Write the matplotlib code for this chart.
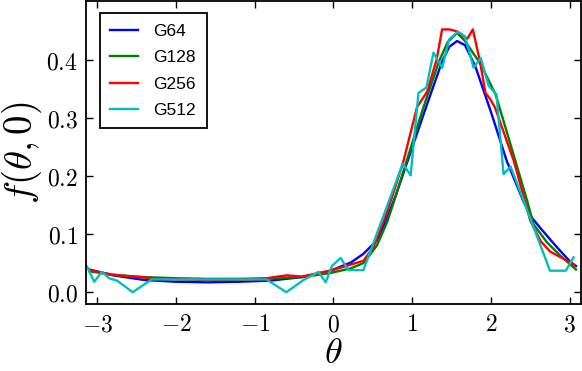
import matplotlib
matplotlib.use("Agg")
import matplotlib.pyplot as plt
from matplotlib.ticker import FuncFormatter, FixedLocator

# G64 (smooth)
theta_g64 = [-3.10, -2.80, -2.40, -2.00, -1.60, -1.20, -0.80, -0.40, -0.04, 0.22, 0.38,
             0.55, 0.64, 0.79, 0.97, 1.18, 1.38, 1.47, 1.57, 1.67, 1.80, 2.00, 2.20,
             2.41, 2.52, 2.63, 2.84, 3.01, 3.08]
f_g64 = [0.039, 0.029, 0.021, 0.018, 0.017, 0.018, 0.020, 0.026, 0.037, 0.051, 0.066,
         0.089, 0.115, 0.166, 0.237, 0.320, 0.397, 0.422, 0.432, 0.425, 0.389, 0.310, 0.226,
         0.157, 0.128, 0.110, 0.077, 0.052, 0.045]

# G128
theta_g128 = [-3.10, -2.80, -2.40, -2.00, -1.60, -1.20, -0.80, -0.40, -0.04, 0.22, 0.38,
              0.55, 0.68, 0.77, 0.93, 1.13, 1.34, 1.45, 1.57, 1.67, 1.87, 2.06, 2.31,
              2.46, 2.54, 2.71, 2.88, 3.08]
f_g128 = [0.036, 0.030, 0.026, 0.024, 0.023, 0.023, 0.024, 0.026, 0.033, 0.041, 0.050,
          0.080, 0.120, 0.157, 0.226, 0.313, 0.397, 0.430, 0.446, 0.432, 0.392, 0.340, 0.226,
          0.157, 0.117, 0.086, 0.063, 0.039]

# G256
theta_g256 = [-3.10, -2.80, -2.40, -2.00, -1.60, -1.20, -0.90, -0.60, -0.40, -0.04, 0.38,
              0.51, 0.64, 0.75, 0.89, 1.06, 1.19, 1.31, 1.38, 1.47, 1.56, 1.70, 1.77,
              1.86, 1.93, 1.99, 2.05, 2.29, 2.50, 2.63, 2.75, 2.97, 3.06]
f_g256 = [0.038, 0.030, 0.025, 0.022, 0.021, 0.021, 0.023, 0.029, 0.027, 0.037, 0.054,
          0.078, 0.123, 0.166, 0.226, 0.318, 0.345, 0.400, 0.452, 0.452, 0.449, 0.436, 0.452,
          0.397, 0.343, 0.332, 0.318, 0.226, 0.123, 0.088, 0.070, 0.054, 0.047]

# G512 (noisy)
theta_g512 = [-3.13, -3.04, -2.94, -2.85, -2.75, -2.55, -2.31, -0.85, -0.60, -0.38,
              -0.19, -0.10, -0.02, 0.09, 0.19, 0.38, 0.88, 0.98, 1.08, 1.18, 1.27, 1.38,
              1.47, 1.58, 1.67, 1.78, 1.87, 1.97, 2.07, 2.16, 2.25, 2.75, 2.95, 3.05]
f_g512 = [0.044, 0.018, 0.035, 0.024, 0.020, 0.000, 0.022, 0.022, 0.000, 0.021,
          0.035, 0.017, 0.045, 0.059, 0.038, 0.038, 0.221, 0.201, 0.343, 0.352, 0.412, 0.386,
          0.435, 0.448, 0.440, 0.386, 0.403, 0.355, 0.340, 0.203, 0.216, 0.037, 0.037, 0.060]

series = [("G64", theta_g64, f_g64, "b"),
          ("G128", theta_g128, f_g128, "g"),
          ("G256", theta_g256, f_g256, "r"),
          ("G512", theta_g512, f_g512, "c")]

xticks = [-3, -2, -1, 0, 1, 2, 3]
yticks = [0.0, 0.1, 0.2, 0.3, 0.4]

plt.rcParams["mathtext.fontset"] = "cm"

fig = plt.figure(figsize=(5.82, 3.71), dpi=100)
ax = fig.add_axes([0.148, 0.181, 0.850, 0.815])

for name, th, f, col in series:
    ax.plot(th, f, color=col, lw=1.7, label=name)

ax.set_xlim(-3.1416, 3.1416)
ax.set_ylim(-0.02, 0.50)
ax.xaxis.set_major_locator(FixedLocator(xticks))
ax.yaxis.set_major_locator(FixedLocator(yticks))
ax.xaxis.set_major_formatter(FuncFormatter(lambda v, p: r"$%d$" % round(v)))
ax.yaxis.set_major_formatter(FuncFormatter(lambda v, p: r"$%.1f$" % v))
ax.tick_params(direction="in", length=5, width=1, top=True, right=True,
               labelsize=17, pad=6)
for sp in ax.spines.values():
    sp.set_linewidth(1.3)

ax.set_xlabel(r"$\theta$", fontsize=26, labelpad=0)
ax.set_ylabel(r"$f(\theta, 0)$", fontsize=28, labelpad=2)

leg = ax.legend(loc="upper left", prop={"family": "Liberation Sans", "size": 12.5},
                fancybox=False, framealpha=1, edgecolor="black",
                handlelength=1.6, handletextpad=0.9, labelspacing=0.65,
                borderpad=0.6, bbox_to_anchor=(0.010, 0.99))
leg.get_frame().set_linewidth(1.3)

fig.savefig("out.png", dpi=100)
